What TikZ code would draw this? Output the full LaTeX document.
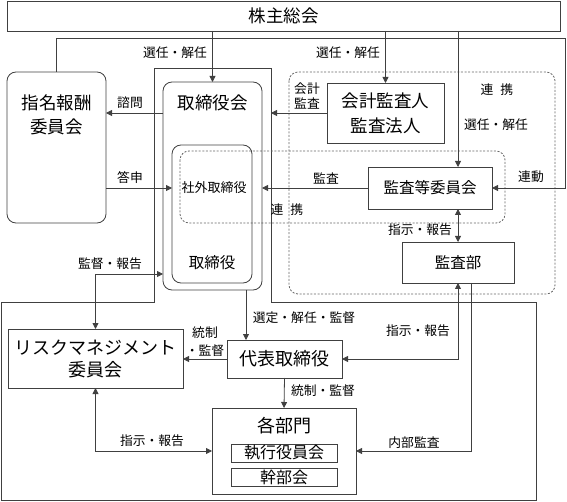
\documentclass[tikz,border=0pt]{standalone}
\usepackage{fontspec}
\setmainfont{Noto Sans CJK JP}
\usetikzlibrary{arrows.meta,calc}
\begin{document}
\begin{tikzpicture}[x=1pt,y=-1pt,
  line/.style={draw=black!75, line width=0.8pt},
  box/.style={line, inner sep=0pt, outer sep=0pt, align=center},
  rbox/.style={box, rounded corners=9pt},
  grp/.style={draw=black!60, line width=0.8pt, dash pattern=on 2pt off 1.6pt, rounded corners=9pt},
  arr/.style={line, -{Triangle[length=6pt,width=6pt]}},
  dbl/.style={line, {Triangle[length=6pt,width=6pt]}-{Triangle[length=6pt,width=6pt]}},
  lbl/.style={font=\fontsize{12.8}{15}\selectfont, inner sep=0pt, align=center},
  bigf/.style={font=\fontsize{17.5}{24}\selectfont, align=center},
  midf/.style={font=\fontsize{15.5}{18}\selectfont, align=center},
  smf/.style={font=\fontsize{13}{15}\selectfont, align=center},
]
\useasboundingbox (0,0) rectangle (567,502);
% executive frame with board tab
\coordinate (fr) at (271,68);
\draw[line] (1,302) -- (154,302) -- (154,68) -- (fr) -- (271,302) -- (536,302) -- (536,500) -- (1,500) -- cycle;
% dashed groups
\draw[grp] (289,72) rectangle (555,294);
\draw[grp] (180,151) rectangle (505,223);
% nodes
\node[box, bigf, minimum width=553pt, minimum height=30pt] (sh) at (283.5,16) {株主総会};
\node[rbox, minimum width=99pt, minimum height=151pt] (nom) at (56.5,147.5) {};
\node[bigf, inner sep=0pt] (nomt) at (56.5,115) {指名報酬\\委員会};
\node[rbox, minimum width=99pt, minimum height=208pt] (bod) at (212.5,186) {};
\node[bigf, inner sep=0pt] (bodt) at (212.5,103) {取締役会};
\node[rbox, minimum width=80pt, minimum height=138pt] (dir) at (212,214) {};
\node[midf, inner sep=0pt] (dirt) at (212,263) {取締役};
\node[smf, inner sep=0pt] (out) at (214,188) {社外取締役};
\node[box, font=\fontsize{17.5}{25}\selectfont, minimum width=117pt, minimum height=60pt] (aud) at (385.5,113) {会計監査人\\監査法人};
\node[box, midf, minimum width=124pt, minimum height=42pt] (ac) at (430,188) {監査等委員会};
\node[box, midf, minimum width=112pt, minimum height=41pt] (ia) at (458,262.5) {監査部};
\node[box, font=\fontsize{18}{22}\selectfont, minimum width=175pt, minimum height=59pt] (risk) at (95.5,358.5) {リスクマネジメント\\委員会};
\node[box, font=\fontsize{18}{22}\selectfont, minimum width=115pt, minimum height=38pt] (rep) at (284.5,359) {代表取締役};
\node[box, minimum width=144pt, minimum height=86pt] (dep) at (284,451) {};
\node[font=\fontsize{18}{22}\selectfont, inner sep=0pt] (dept) at (284,426) {各部門};
\node[box, font=\fontsize{16}{18}\selectfont, minimum width=106pt, minimum height=18pt] (exe) at (284,453) {執行役員会};
\node[box, font=\fontsize{16}{18}\selectfont, minimum width=106pt, minimum height=18pt] (kan) at (284,477) {幹部会};
\coordinate (tr) at (565,38);
% connectors
\draw[arr] (bod.north |- sh.south) -- (bod.north);
\draw[arr] (aud.north |- sh.south) -- (aud.north);
\draw[arr] (ia.north |- sh.south) -- (ia.north |- ac.north);
\draw[arr] (nom.north) |- (tr) |- (ac.east);
\draw[arr] (bod.west |- aud.center) -- (nom.east |- aud.center);
\draw[arr] (aud.west) -- (aud.west -| fr);
\draw[arr] (nom.east |- ac.center) -- (dir.west |- ac.center);
\draw[arr] (ac.west) -- (bod.east |- ac.west);
\draw[dbl] (ia.north |- ac.south) -- (ia.north);
\draw[dbl] (ia.south) |- (rep.east);
\draw[arr] ([xshift=13pt]ia.south) |- (dep.east);
\draw[arr] ([xshift=33.5pt]bod.south) -- ([xshift=33.5pt]bod.south |- rep.north);
\draw[arr] (rep.west) -- (risk.east |- rep.west);
\draw[arr] (rep.south) -- (dep.north);
\draw[dbl] (risk.south) |- (dep.west);
\draw[dbl] ([yshift=-88pt]bod.west) -| (risk.north);
% labels
\node[lbl] at (175,53) {選任・解任};
\node[lbl] at (348,53) {選任・解任};
\node[lbl] at (496,125) {選任・解任};
\node[lbl] at (130,103) {諮問};
\node[lbl] at (130,178) {答申};
\node[lbl, font=\fontsize{12.8}{15}\selectfont] at (307,96) {会計\\監査};
\node[lbl] at (326,179) {監査};
\node[lbl] at (287,210) {連\hspace{7pt}携};
\node[lbl] at (497,90) {連\hspace{7pt}携};
\node[lbl] at (531,177) {連動};
\node[lbl] at (420,230) {指示・報告};
\node[lbl] at (110,264) {監督・報告};
\node[lbl] at (304,318) {選定・解任・監督};
\node[lbl, font=\fontsize{12.8}{18}\selectfont] at (205,342) {統制\\・監督};
\node[lbl] at (323,391) {統制・監督};
\node[lbl] at (418,331) {指示・報告};
\node[lbl] at (152,441) {指示・報告};
\node[lbl] at (414,443) {内部監査};
\end{tikzpicture}
\end{document}
